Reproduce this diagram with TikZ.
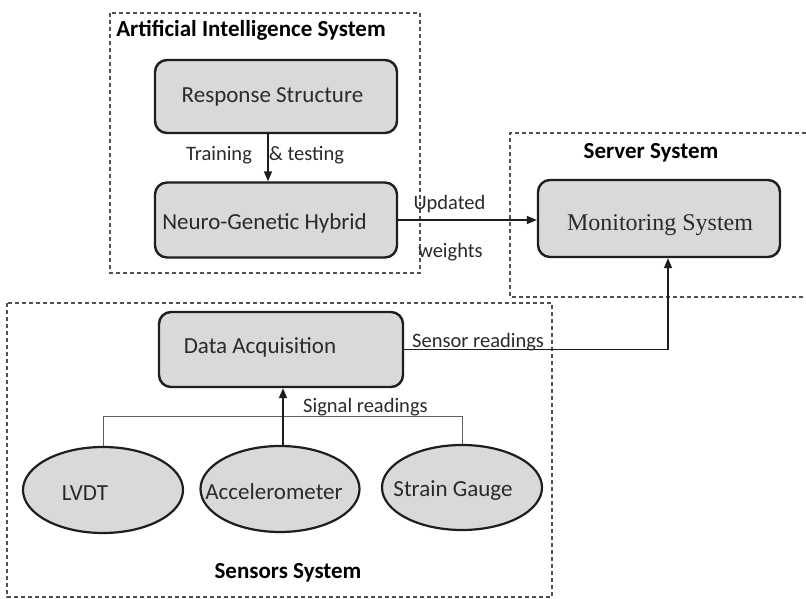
\documentclass[tikz,border=0pt]{standalone}
\usepackage{fontspec}
\setmainfont{Carlito}
\newfontfamily\tnr{Liberation Serif}
\usetikzlibrary{arrows.meta,shapes.geometric}
\definecolor{boxfill}{HTML}{D9D9D9}
\definecolor{edge}{HTML}{1E1E1E}
\definecolor{dashc}{HTML}{505050}
\definecolor{txt}{HTML}{2A2A2A}
\tikzset{
  sysbox/.style={draw=dashc,line width=1.3pt,dash pattern=on 4pt off 3pt},
  procbox/.style={draw=edge,fill=boxfill,line width=2.4pt,rounded corners=12pt,
    minimum width=242pt,inner sep=0pt},
  sensor/.style={ellipse,draw=edge,fill=boxfill,line width=2.2pt,minimum width=160pt,
    minimum height=86pt,inner sep=0pt},
  maintxt/.style={font=\fontsize{23}{27}\selectfont,text=txt,inner sep=0pt},
  lbl/.style={font=\fontsize{20.5}{24}\selectfont,text=txt,inner sep=0pt},
  ttl/.style={font=\fontsize{23}{27}\selectfont\bfseries,text=black,inner sep=0pt},
  flow/.style={draw=edge,line width=1.6pt,-{Triangle[length=10pt,width=8pt]}},
  sigline/.style={draw=gray!75!black,line width=1pt}
}
\begin{document}
\begin{tikzpicture}[x=1pt,y=-1pt]
\useasboundingbox[fill=white] (0,0) rectangle (806,599);
% system frames
\draw[sysbox] (110,13) rectangle (420,273);
\draw[sysbox] (806,133) -- (510,133) -- (510,297) -- (806,297);
\draw[sysbox] (7,303) rectangle (552,597);
\node[ttl] (aititle) at (251,30) {Artificial Intelligence System};
\node[ttl] (srvtitle) at (651,153) {Server System};
\node[ttl] (sentitle) at (288,573) {Sensors System};
% process boxes
\node[procbox,minimum height=73pt,label={[maintxt,xshift=-3.5pt]center:Response Structure}] (resp) at (276,96.5) {};
\node[procbox,minimum height=75pt,label={[maintxt,xshift=-11.5pt,yshift=-3pt]center:Neuro-Genetic Hybrid}] (neuro) at (276,220) {};
\node[procbox,minimum height=77pt,label={[font=\fontsize{24}{28}\tnr,text=txt,inner sep=0pt,xshift=1pt,yshift=-6.5pt]center:Monitoring System}] (mon) at (659,218.5) {};
\node[procbox,minimum width=244pt,minimum height=75pt,label={[maintxt,xshift=-21pt,yshift=2.5pt]center:Data Acquisition}] (daq) at (281,349.5) {};
% sensors
\node[sensor,label={[maintxt,xshift=-18pt,yshift=-3pt]center:LVDT}] (lvdt) at (103,490) {};
\node[sensor,minimum width=159pt,label={[maintxt,xshift=-6pt,yshift=-3pt]center:Accelerometer}] (acc) at (280,489) {};
\node[sensor,minimum height=85pt,label={[maintxt,xshift=-9pt,yshift=-3pt]center:Strain Gauge}] (sg) at (462,487.5) {};
% connectors
\draw[flow] ([xshift=-8pt]resp.south) -- ([xshift=-8pt]neuro.north);
\node[lbl] (trn) at (219,155) {Training};
\node[lbl] (tst) at (306.5,155) {\& testing};
\draw[flow] (neuro.east) -- (neuro.east -| mon.west);
\node[lbl] (upd) at (449.5,204) {Updated};
\node[lbl] (wts) at (450.5,252) {weights};
\coordinate (sigbar) at (0,416);
\draw[sigline] (lvdt.north) -- (lvdt.north |- sigbar) -| (sg.north);
\draw[flow] ([xshift=3pt]acc.north) -- ([xshift=3pt]acc.north |- daq.south);
\node[lbl,anchor=base west] (sigr) at (303,412) {Signal readings};
\draw[flow] (daq.east) -| ([xshift=9pt]mon.south);
\node[lbl,anchor=base west] (senr) at (412,347) {Sensor readings};
\end{tikzpicture}
\end{document}
